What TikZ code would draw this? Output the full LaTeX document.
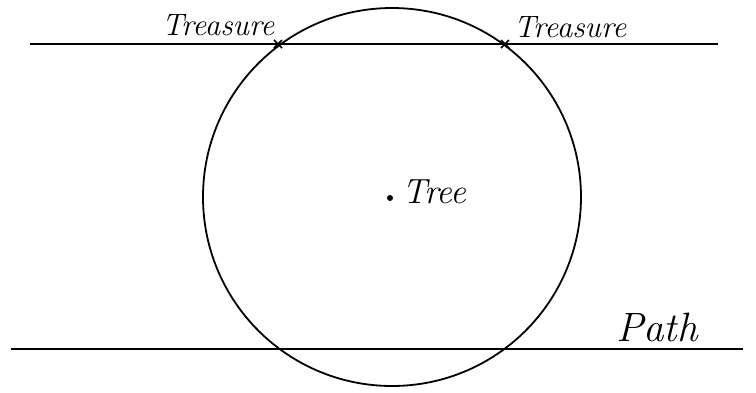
\documentclass[tikz,border=0pt]{standalone}
\begin{document}
\begin{tikzpicture}[x=1pt,y=-1pt,
  ln/.style={line width=1.9pt,black},
  lbl/.style={font=\fontsize{31}{34}\selectfont\itshape,inner sep=0pt},
  xmark/.style={line width=1.6pt}]
\useasboundingbox (0,0) rectangle (756,392);
\node[circle,draw,line width=1.8pt,minimum size=378pt,inner sep=0pt] (c) at (392,197) {};
\coordinate (tl) at (30,44);
\coordinate (tr) at (718,44);
\coordinate (bl) at (11,349);
\coordinate (br) at (743,349);
\draw[ln] (tl) -- (tr);
\draw[ln] (bl) -- (br);
\coordinate (t1) at (278,44);
\coordinate (t2) at (505,44);
\draw[xmark] ([shift={(-4,-4)}]t1) -- ([shift={(4,4)}]t1) ([shift={(-4,4)}]t1) -- ([shift={(4,-4)}]t1);
\draw[xmark] ([shift={(-4,-4)}]t2) -- ([shift={(4,4)}]t2) ([shift={(-4,4)}]t2) -- ([shift={(4,-4)}]t2);
\node[lbl] (tr1) at (218,25) {Treasure};
\node[lbl] (tr2) at (570,27) {Treasure};
\fill (390,198) circle (3pt) coordinate (tree);
\node[lbl,anchor=west,font=\fontsize{35}{38}\selectfont\itshape] (treel) at (402,192) {Tree};
\node[lbl,font=\fontsize{41}{44}\selectfont\itshape] (path) at (657,327) {Path};
\end{tikzpicture}
\end{document}
